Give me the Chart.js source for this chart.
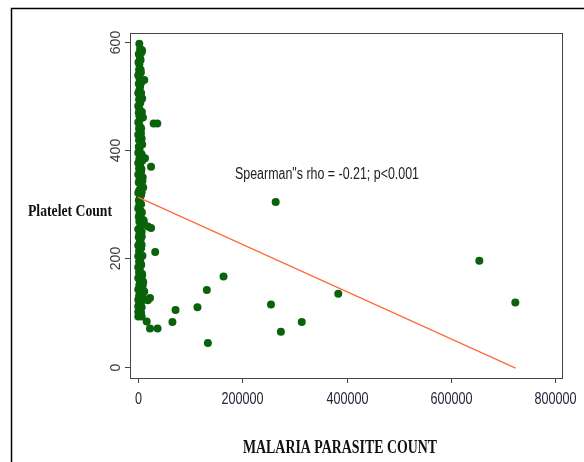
<!DOCTYPE html>
<html>
<head>
<meta charset="utf-8">
<script src="https://cdn.jsdelivr.net/npm/chart.js@4.4.1/dist/chart.umd.min.js"></script>
<style>
  body { margin: 0; background: #fff; }
  #wrap { width: 584px; height: 462px; position: relative; }
</style>
</head>
<body>
<div id="wrap"><canvas id="scatter"></canvas></div>
<script>
// malaria parasite count vs platelet count
const parasiteCount = [
  264000, 654500, 723500, 384000, 255000, 274000, 314000, 164000, 132000, 114000,
  134000, 72000, 66000, 37500, 23000, 16700, 18600, 23000, 33000, 25000,
  30000, 37000, 19000, 25000, 13400, 7000, 12000, 7700,
  2500, 4000, 7000, 1500, 3500, 5000, 1000, 2500,
  2000, 5500, 500, 3000, 6500, 1500, 4000, 2500, 500, 3500,
  2000, 4500, 500, 3000, 1500, 2500, 4000, 500, 3000, 2000,
  5000, 500, 3500, 2000, 6500, 1500, 3000, 500, 5500, 2500,
  8000, 500, 4000, 2000, 6000, 500, 9000, 3000, 1500, 5000,
  10000, 2500, 500, 6000, 3500, 1500, 4500, 2000, 500, 5500,
  3000, 1500, 8000, 2500, 12000, 4000, 500, 7000, 2500, 1500,
  5000, 3000, 500, 6000, 2000, 3500, 500, 4500, 2000, 6000,
  500, 3500, 2000, 8000, 500, 4000, 10000, 2500, 6000, 500,
  12000, 4000, 2000, 9000, 500, 5000, 3000, 500, 7000, 4000,
  500, 6000, 600, 7000, 3500,
  6000, 7500, 6000, 8000, 7000, 6500, 8500, 7000, 6000, 7500,
  8000, 6500, 7000, 8500, 6000, 7500, 9000, 6500, 8000, 7000,
  5000, 6500, 8000, 9500, 5500, 11000, 7000, 9000
];
const plateletCount = [
  304, 196, 119, 135, 115, 65, 83, 167, 142, 110,
  44, 105, 83, 71, 71, 84, 123, 127, 212, 369,
  449, 449, 259, 256, 385, 421, 529, 584,
  596, 586, 580, 577, 571, 566, 562, 558,
  548, 543, 538, 532, 528, 522, 516, 510, 505, 499,
  493, 487, 481, 475, 469, 463, 457, 451, 445, 439,
  433, 428, 424, 418, 412, 406, 400, 395, 390, 384,
  380, 376, 372, 366, 360, 355, 350, 346, 340, 336,
  331, 326, 321, 317, 312, 307, 302, 297, 292, 287,
  282, 277, 272, 268, 263, 258, 254, 249, 244, 239,
  234, 229, 224, 219, 214, 209, 204, 199, 194, 189,
  184, 179, 174, 169, 164, 160, 156, 151, 147, 143,
  139, 135, 131, 128, 124, 120, 116, 112, 110, 106,
  102, 100, 93, 93, 118,
  505, 470, 440, 410, 392, 365, 343, 322, 300, 285,
  262, 242, 225, 205, 188, 172, 158, 145, 133, 122,
  548, 525, 495, 460, 430, 270, 240, 150
];
// fitted line end points
const fitX = [0, 724000];
const fitY = [313, -2];

const xTicks = [0, 200000, 400000, 600000, 800000];
const yTicks = [0, 200, 400, 600];
const annotation = 'Spearman"s rho = -0.21; p<0.001';
const annotationX = 186000;
const annotationY = 354;

const points = parasiteCount.map((x, i) => ({ x: x, y: plateletCount[i] }));
const fitLine = fitX.map((x, i) => ({ x: x, y: fitY[i] }));

const framePlugin = {
  id: "frame",
  beforeDatasetsDraw(chart) {
    const ctx = chart.ctx;
    const a = chart.chartArea;
    ctx.save();
    // outer border
    ctx.strokeStyle = "#000";
    ctx.lineWidth = 1.5;
    ctx.beginPath();
    ctx.moveTo(11.5, 462);
    ctx.lineTo(11.5, 8.5);
    ctx.lineTo(584, 8.5);
    ctx.stroke();
    // plot box
    ctx.strokeStyle = "#444";
    ctx.lineWidth = 1;
    ctx.strokeRect(Math.round(a.left) + 0.5, Math.round(a.top) + 0.5,
      Math.round(a.right - a.left), Math.round(a.bottom - a.top));
    ctx.restore();
  },
  afterDraw(chart) {
    const ctx = chart.ctx;
    const a = chart.chartArea;
    const xs = chart.scales.x;
    const ys = chart.scales.y;
    ctx.save();
    ctx.strokeStyle = "#444";
    ctx.lineWidth = 1;
    // x ticks
    ctx.fillStyle = "#24243a";
    ctx.font = "16px 'Liberation Sans', Arial, sans-serif";
    ctx.textAlign = "center";
    ctx.textBaseline = "middle";
    xTicks.forEach(v => {
      const px = Math.round(xs.getPixelForValue(v)) + 0.5;
      ctx.beginPath();
      ctx.moveTo(px, a.bottom);
      ctx.lineTo(px, a.bottom + 5);
      ctx.stroke();
      const s = String(v);
      ctx.fillText(s, px, 400, s.length * 7);
    });
    // y ticks, rotated labels
    ctx.fillStyle = "#3a3a3a";
    ctx.font = "14px 'Liberation Sans', Arial, sans-serif";
    yTicks.forEach(v => {
      const py = Math.round(ys.getPixelForValue(v)) + 0.5;
      ctx.beginPath();
      ctx.moveTo(a.left - 5, py);
      ctx.lineTo(a.left, py);
      ctx.stroke();
      ctx.save();
      ctx.translate(116, py);
      ctx.rotate(-Math.PI / 2);
      ctx.fillText(String(v), 0, 0);
      ctx.restore();
    });
    // annotation
    ctx.fillStyle = "#222";
    ctx.font = "16px 'Liberation Sans', Arial, sans-serif";
    ctx.textAlign = "left";
    ctx.fillText(annotation, xs.getPixelForValue(annotationX), ys.getPixelForValue(annotationY), 184);
    // axis titles
    ctx.fillStyle = "#111";
    ctx.font = "bold 16px 'Liberation Serif', 'Times New Roman', serif";
    ctx.textAlign = "left";
    ctx.fillText("Platelet Count", 28, 212, 84);
    ctx.font = "bold 18px 'Liberation Serif', 'Times New Roman', serif";
    ctx.textAlign = "center";
    ctx.fillText("MALARIA PARASITE COUNT", 340, 448, 194);
    ctx.restore();
  }
};

new Chart(document.getElementById("scatter"), {
  type: "scatter",
  data: {
    datasets: [
      {
        type: "line",
        data: fitLine,
        borderColor: "#ff6a3d",
        borderWidth: 1.3,
        pointRadius: 0,
        fill: false,
      },
      {
        data: points,
        backgroundColor: "#0a620a",
        borderColor: "#0a620a",
        pointRadius: 4,
        borderWidth: 0,
      },
    ],
  },
  options: {
    responsive: true,
    maintainAspectRatio: false,
    animation: false,
    layout: { padding: { left: 130, top: 33, right: 22, bottom: 84 } },
    plugins: {
      legend: { display: false },
      tooltip: { enabled: false },
    },
    scales: {
      x: { type: "linear", min: -15340, max: 813000, display: false },
      y: { type: "linear", min: -20.3, max: 615.7, display: false },
    },
  },
  plugins: [framePlugin],
});
</script>
</body>
</html>
